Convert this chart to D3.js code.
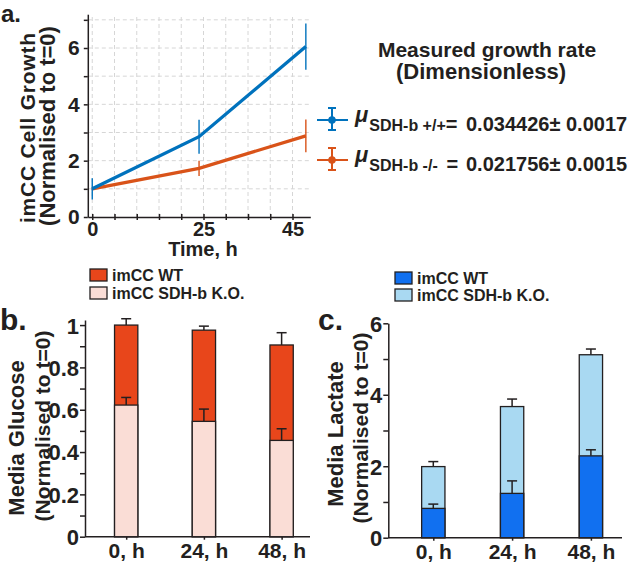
<!DOCTYPE html>
<html>
<head>
<meta charset="utf-8">
<script src="https://cdn.jsdelivr.net/npm/d3@7"></script>
<style>
  body { margin: 0; background: #fff; }
  text { font-family: "Liberation Sans", Arial, sans-serif; font-weight: bold; fill: #231f20; }
  .axis path, .axis line { stroke: #231f20; stroke-width: 1.5; }
</style>
</head>
<body>
<svg id="chart" width="630" height="562"></svg>
<script>
// panel a - cell growth
var growthTime = [0, 24, 48];
var growthWT = [1.0, 2.85, 6.05];
var growthWTErr = [0.38, 0.6, 0.82];
var growthKO = [1.0, 1.73, 2.88];
var growthKOErr = [0.05, 0.27, 0.58];
var growthXTicks = [0, 25, 45];
var rateLabels = ["SDH-b +/+", "SDH-b -/-"];
var rateValues = ["0.034426± 0.0017", "0.021756± 0.0015"];

// panels b and c
var timeLabels = ["0, h", "24, h", "48, h"];
var glucoseWT = [1.0, 0.976, 0.906];
var glucoseWTErr = [0.03, 0.019, 0.058];
var glucoseKO = [0.622, 0.545, 0.455];
var glucoseKOErr = [0.036, 0.058, 0.055];
var lactateWT = [0.82, 1.24, 2.29];
var lactateWTErr = [0.12, 0.35, 0.17];
var lactateKO = [1.99, 3.67, 5.12];
var lactateKOErr = [0.14, 0.21, 0.16];
var barLegend = ["imCC WT", "imCC SDH-b K.O."];

var svg = d3.select("#chart");
var ink = "#231f20";

//---------------- panel a
var xA = d3.scaleLinear().domain([-1, 49]).range([87.8, 310.3]);
var yA = d3.scaleLinear().domain([0, 7.2]).range([217, 14.2]);
var gA = svg.append("g");

// dashed grid
gA.selectAll(".vgrid").data(d3.range(0, 50, 5)).enter().append("line")
    .attr("x1", d => xA(d)).attr("x2", d => xA(d))
    .attr("y1", yA(0)).attr("y2", yA(7.2))
    .attr("stroke", "#d6d6d6").attr("stroke-dasharray", "4,3");
gA.selectAll(".hgrid").data(d3.range(1, 8)).enter().append("line")
    .attr("x1", xA(-1)).attr("x2", xA(49))
    .attr("y1", d => yA(d)).attr("y2", d => yA(d))
    .attr("stroke", "#d6d6d6").attr("stroke-dasharray", "4,3");

var yAxisA = gA.append("g").attr("class", "axis")
    .attr("transform", "translate(" + xA(-1) + ",0)")
    .call(d3.axisLeft(yA).tickValues(d3.range(0, 8))
        .tickFormat(d => d % 2 == 0 ? d : "").tickSize(4).tickSizeOuter(0).tickPadding(4));
var xAxisA = gA.append("g").attr("class", "axis")
    .attr("transform", "translate(0," + yA(0) + ")")
    .call(d3.axisBottom(xA).tickValues(d3.range(0, 50, 5))
        .tickFormat(d => growthXTicks.indexOf(d) >= 0 ? d : "").tickSize(3).tickSizeOuter(0).tickPadding(2));
xAxisA.selectAll(".tick line").attr("y1", -3);
gA.selectAll(".axis text").style("font-size", "21px").style("font-family", "'Liberation Sans', Arial, sans-serif")
    .attr("fill", ink);
xAxisA.selectAll(".tick text").style("font-size", "20px");

var lineA = d3.line().x((d, i) => xA(growthTime[i])).y(d => yA(d));
var seriesA = [
  {vals: growthWT, err: growthWTErr, color: "#0072BD"},
  {vals: growthKO, err: growthKOErr, color: "#D95319"}
];
seriesA.slice().reverse().forEach(function(s) {
  gA.append("path").datum(s.vals).attr("d", lineA)
      .attr("fill", "none").attr("stroke", s.color).attr("stroke-width", 3.3);
  gA.selectAll(null).data(s.vals).enter().append("line")
      .attr("x1", (d, i) => xA(growthTime[i])).attr("x2", (d, i) => xA(growthTime[i]))
      .attr("y1", (d, i) => yA(d - s.err[i])).attr("y2", (d, i) => yA(d + s.err[i]))
      .attr("stroke", s.color).attr("stroke-width", 1.4);
});

gA.append("text").attr("x", 1).attr("y", 22).style("font-size", "24px").text("a.");
gA.append("text").attr("transform", "translate(35,128) rotate(-90)")
    .attr("text-anchor", "middle").style("font-size", "21px")
    .attr("textLength", 190).attr("lengthAdjust", "spacing").text("imCC Cell Growth");
gA.append("text").attr("transform", "translate(55,126) rotate(-90)")
    .attr("text-anchor", "middle").style("font-size", "22px").text("(Normalised to t=0)");
gA.append("text").attr("x", 203).attr("y", 256)
    .attr("text-anchor", "middle").style("font-size", "20px").text("Time, h");

// legend of panel a
gA.append("text").attr("x", 487).attr("y", 57).attr("text-anchor", "middle")
    .style("font-size", "21px").text("Measured growth rate");
gA.append("text").attr("x", 481).attr("y", 79).attr("text-anchor", "middle")
    .style("font-size", "22px").text("(Dimensionless)");
seriesA.forEach(function(s, i) {
  var cy = 120 + i * 40;
  var lg = gA.append("g").attr("transform", "translate(0," + cy + ")");
  lg.append("line").attr("x1", 317).attr("x2", 348).attr("y1", 0).attr("y2", 0)
      .attr("stroke", s.color).attr("stroke-width", 2);
  lg.append("line").attr("x1", 332).attr("x2", 332).attr("y1", -12).attr("y2", 10)
      .attr("stroke", s.color).attr("stroke-width", 2);
  [-12, 10].forEach(function(v) {
    lg.append("line").attr("x1", 328).attr("x2", 336).attr("y1", v).attr("y2", v)
        .attr("stroke", s.color).attr("stroke-width", 2);
  });
  lg.append("circle").attr("cx", 332).attr("cy", 0).attr("r", 3.8).attr("fill", s.color);
  var t = lg.append("text").attr("x", 355).attr("y", 2).style("white-space", "pre");
  t.append("tspan").style("font-size", "22px").style("font-style", "italic").text("μ");
  t.append("tspan").attr("dx", 1).attr("dy", 9).style("font-size", "16px").text(rateLabels[i] + (i == 1 ? "  " : ""));
  t.append("tspan").style("font-size", "20px").text("=");
  lg.append("text").attr("x", 466).attr("y", 11).style("font-size", "20px").text(rateValues[i]);
});

//---------------- bar panels
function barPanel(opt) {
  var g = svg.append("g");
  var x = d3.scalePoint().domain(timeLabels).range(opt.xRange).padding(opt.pad);
  var y = d3.scaleLinear().domain(opt.yDomain).range(opt.yRange);
  var bw = 23.3;

  var ya = g.append("g").attr("class", "axis")
      .attr("transform", "translate(" + opt.xRange[0] + ",0)")
      .call(d3.axisLeft(y).tickValues(opt.ticks).tickFormat(opt.fmt)
          .tickSize(5).tickSizeOuter(0).tickPadding(1));
  var xa = g.append("g").attr("class", "axis")
      .attr("transform", "translate(0," + y(0) + ")")
      .call(d3.axisBottom(x).tickSize(3).tickSizeOuter(0).tickPadding(3));
  xa.select(".domain").attr("d", "M" + opt.xRange[0] + ",0H" + opt.axisEnd);
  g.selectAll(".axis text").style("font-size", "21px")
      .style("font-family", "'Liberation Sans', Arial, sans-serif").attr("fill", ink);
  ya.selectAll(".tick text").attr("dy", "0.36em").style("font-size", "22px");

  opt.layers.forEach(function(s) {
    g.selectAll(null).data(s.vals).enter().append("line")
        .attr("x1", (d, i) => x(timeLabels[i])).attr("x2", (d, i) => x(timeLabels[i]))
        .attr("y1", d => y(d)).attr("y2", (d, i) => y(d + s.err[i]))
        .attr("stroke", ink).attr("stroke-width", 1.5);
    g.selectAll(null).data(s.vals).enter().append("line")
        .attr("x1", (d, i) => x(timeLabels[i]) - 5).attr("x2", (d, i) => x(timeLabels[i]) + 5)
        .attr("y1", (d, i) => y(d + s.err[i])).attr("y2", (d, i) => y(d + s.err[i]))
        .attr("stroke", ink).attr("stroke-width", 1.5);
    g.selectAll(null).data(s.vals).enter().append("rect")
        .attr("x", (d, i) => x(timeLabels[i]) - bw / 2).attr("width", bw)
        .attr("y", d => y(d)).attr("height", d => y(0) - y(d))
        .attr("fill", s.color).attr("stroke", ink).attr("stroke-width", 1.3);
  });

  g.append("text").attr("x", opt.label[0]).attr("y", opt.label[1]).style("font-size", "30px").text(opt.letter);
  g.append("text").attr("transform", "translate(" + opt.ylab[0] + "," + opt.ylab[2] + ") rotate(-90)")
      .attr("text-anchor", "middle").style("font-size", "22px").text(opt.title);
  g.append("text").attr("transform", "translate(" + opt.ylab[1] + "," + opt.ylab[3] + ") rotate(-90)")
      .attr("text-anchor", "middle").style("font-size", "21px").text("(Normalised to t=0)");

  opt.legend.forEach(function(c, i) {
    var ly = opt.legY + i * opt.legStep;
    g.append("rect").attr("x", opt.legX).attr("y", ly - 6).attr("width", 17).attr("height", 12)
        .attr("fill", c).attr("stroke", ink).attr("stroke-width", 1.3);
    g.append("text").attr("x", opt.legX + 22).attr("y", ly + 6).style("font-size", "16px").text(barLegend[i]);
  });
}

barPanel({
  xRange: [85, 322.8], pad: 0.53, axisEnd: 310,
  yDomain: [0, 1.024], yRange: [536.7, 320],
  ticks: d3.range(0, 11).map(d => d / 10),
  fmt: d => Math.round(d * 10) % 2 == 0 ? (d == 0 || d == 1 ? d : d3.format(".1f")(d)) : "",
  layers: [
    {vals: glucoseWT, err: glucoseWTErr, color: "#E8461B"},
    {vals: glucoseKO, err: glucoseKOErr, color: "#FADDD6"}
  ],
  letter: "b.", label: [0, 330],
  title: "Media Glucose", ylab: [24, 50, 438, 426],
  legend: ["#E8461B", "#FADDD6"], legX: 90, legY: 275, legStep: 18
});

barPanel({
  xRange: [388.3, 635.9], pad: 0.571, axisEnd: 622,
  yDomain: [0, 6], yRange: [537.7, 323.3],
  ticks: d3.range(0, 7),
  fmt: d => d % 2 == 0 ? d : "",
  layers: [
    {vals: lactateKO, err: lactateKOErr, color: "#A9D9F2"},
    {vals: lactateWT, err: lactateWTErr, color: "#1170F0"}
  ],
  letter: "c.", label: [318, 330],
  title: "Media Lactate", ylab: [343, 368, 434, 428],
  legend: ["#1170F0", "#A9D9F2"], legX: 395, legY: 278, legStep: 17
});
</script>
</body>
</html>
